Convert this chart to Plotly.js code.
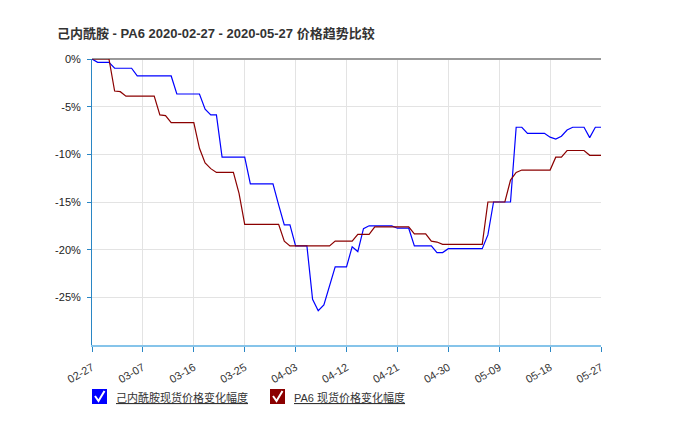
<!DOCTYPE html>
<html>
<head>
<meta charset="utf-8">
<script src="https://cdn.plot.ly/plotly-3.0.1.min.js"></script>
<style>html,body{margin:0;padding:0;background:#fff;}#chart{width:676px;height:426px;}</style>
</head>
<body>
<div id="chart"></div>
<script>
// Series names
var seriesNames = ['己内酰胺现货价格变化幅度', 'PA6 现货价格变化幅度'];
// Daily values (%) from 2020-02-27 to 2020-05-27
var startDate = '2020-02-27';
var capro = [0, -0.35, -0.35, -0.35, -0.97, -0.97, -0.97, -0.97, -1.78, -1.78,
  -1.78, -1.78, -1.78, -1.78, -1.78, -3.67, -3.67, -3.67, -3.67, -3.67,
  -5.27, -5.87, -5.87, -10.3, -10.3, -10.3, -10.3, -10.3, -13.1, -13.1,
  -13.1, -13.1, -13.1, -15.3, -17.4, -17.4, -19.6, -19.6, -19.6, -25.2,
  -26.4, -25.8, -23.9, -21.8, -21.8, -21.8, -19.7, -20.2, -17.8, -17.5,
  -17.5, -17.5, -17.5, -17.5, -17.75, -17.75, -17.75, -19.6, -19.6, -19.6,
  -19.6, -20.3, -20.3, -19.9, -19.9, -19.9, -19.9, -19.9, -19.9, -19.9,
  -18.45, -15.0, -15.0, -15.0, -15.0, -7.16, -7.16, -7.8, -7.8, -7.8,
  -7.8, -8.2, -8.4, -8.1, -7.45, -7.16, -7.16, -7.16, -8.25, -7.16, -7.16];
var pa6 = [0, 0, 0, 0, -3.36, -3.43, -3.9, -3.9, -3.9, -3.9,
  -3.9, -3.9, -5.87, -5.94, -6.68, -6.68, -6.68, -6.68, -6.68, -9.37,
  -10.9, -11.5, -11.9, -11.9, -11.9, -11.9, -14.1, -17.35, -17.35, -17.35,
  -17.35, -17.35, -17.35, -17.35, -19.1, -19.6, -19.6, -19.6, -19.6, -19.6,
  -19.6, -19.6, -19.6, -19.1, -19.1, -19.1, -19.1, -18.4, -18.4, -18.4,
  -17.6, -17.6, -17.6, -17.6, -17.6, -17.6, -17.6, -18.35, -18.35, -18.35,
  -19.1, -19.2, -19.45, -19.45, -19.45, -19.45, -19.45, -19.45, -19.45, -19.45,
  -15.0, -15.0, -15.0, -15.0, -12.7, -11.9, -11.65, -11.65, -11.65, -11.65,
  -11.65, -11.65, -10.3, -10.3, -9.6, -9.6, -9.6, -9.6, -10.1, -10.1, -10.1];
// X tick positions and labels
var tickDates = ['2020-02-27','2020-03-07','2020-03-16','2020-03-25','2020-04-03','2020-04-12','2020-04-21','2020-04-30','2020-05-09','2020-05-18','2020-05-27'];
var tickLabels = ['02-27','03-07','03-16','03-25','04-03','04-12','04-21','04-30','05-09','05-18','05-27'];
var yTicks = [0, -5, -10, -15, -20, -25];
var yTickLabels = ['0%', '-5%', '-10%', '-15%', '-20%', '-25%'];
var colors = ['#0000ff', '#8b0000'];

var dates = [];
var d0 = new Date(startDate + 'T00:00:00Z');
for (var i = 0; i < capro.length; i++) {
  var d = new Date(d0.getTime() + i * 86400000);
  dates.push(d.toISOString().slice(0, 10));
}

var traces = [capro, pa6].map(function (vals, k) {
  return {
    x: dates, y: vals, type: 'scatter', mode: 'lines', name: seriesNames[k],
    line: {color: colors[k], width: 1.2}, showlegend: false
  };
});

var FONT = 'Arial, "Liberation Sans", "Noto Sans CJK SC", sans-serif';
// pixel -> paper helpers for the hand-drawn legend
var L = 92, R = 601, T = 59, B = 345;
function px(x) { return (x - L) / (R - L); }
function py(y) { return (B - y) / (B - T); }

var shapes = [];
var annotations = [];
var legendItems = [{x: 92, k: 0}, {x: 270, k: 1}];
legendItems.forEach(function (it) {
  shapes.push({type: 'rect', xref: 'paper', yref: 'paper',
    x0: px(it.x), x1: px(it.x + 15), y0: py(389), y1: py(404),
    fillcolor: colors[it.k], line: {width: 0}});
  shapes.push({type: 'path', xref: 'paper', yref: 'paper',
    path: 'M ' + px(it.x + 3) + ' ' + py(396) + ' L ' + px(it.x + 6.5) + ' ' + py(401) +
          ' L ' + px(it.x + 12.5) + ' ' + py(391),
    line: {color: '#ffffff', width: 2}});
  annotations.push({xref: 'paper', yref: 'paper', x: px(it.x + 22), y: py(397),
    xanchor: 'left', yanchor: 'middle', showarrow: false,
    text: '<u>' + seriesNames[it.k] + '</u>',
    font: {family: FONT, size: 11, color: '#333'}});
});

var layout = {
  width: 676, height: 426,
  margin: {l: L, r: 676 - R, t: T, b: 426 - B},
  paper_bgcolor: '#ffffff', plot_bgcolor: '#ffffff',
  title: {text: '<b>己内酰胺 - PA6 2020-02-27 - 2020-05-27 价格趋势比较</b>',
    x: 57 / 676, xanchor: 'left', xref: 'container', y: 1 - 33 / 426, yanchor: 'middle',
    font: {family: FONT, size: 13, color: '#333'}},
  xaxis: {
    type: 'date', range: ['2020-02-27', '2020-05-27'],
    tickmode: 'array', tickvals: tickDates, ticktext: tickLabels,
    tickangle: -30, tickfont: {family: FONT, size: 11, color: '#333'},
    ticks: 'outside', ticklen: 5, tickcolor: '#2a86c4', tickwidth: 1,
    ticklabelstandoff: 5,
    showgrid: true, gridcolor: '#e3e3e3', gridwidth: 1,
    showline: true, linecolor: '#86c4ea', linewidth: 2,
    zeroline: false, fixedrange: true
  },
  yaxis: {
    range: [-30, 0], tickmode: 'array', tickvals: yTicks, ticktext: yTickLabels,
    tickfont: {family: FONT, size: 11, color: '#222'},
    ticks: 'outside', ticklen: 4, tickcolor: '#2a86c4', tickwidth: 1,
    ticklabelstandoff: 4,
    showgrid: true, gridcolor: '#e3e3e3', gridwidth: 1,
    showline: true, linecolor: '#2a86c4', linewidth: 1,
    zeroline: true, zerolinecolor: '#999999', zerolinewidth: 1.5,
    fixedrange: true
  },
  shapes: shapes,
  annotations: annotations,
  showlegend: false
};

Plotly.newPlot('chart', traces, layout, {displayModeBar: false, staticPlot: true});
</script>
</body>
</html>
